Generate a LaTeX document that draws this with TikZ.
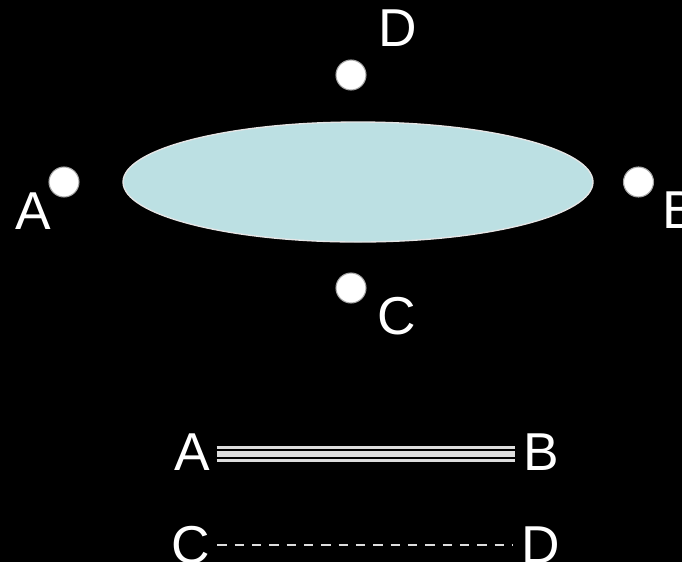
\documentclass[tikz,border=0pt]{standalone}
\usepackage{fontspec}
\setmainfont{Liberation Sans}
\usetikzlibrary{shapes.geometric}
\definecolor{lens}{HTML}{BCE0E3}
\definecolor{rim}{HTML}{E6E6E6}
\definecolor{lgray}{HTML}{DDDDDD}
\begin{document}
\begin{tikzpicture}[x=0.75pt,y=-0.75pt,
  lbl/.style={text=white,inner sep=0pt,font=\fontsize{40}{48}\selectfont},
  dot/.style={circle,fill=white,draw=gray!70,line width=0.8pt,minimum size=22.5pt,inner sep=0pt},
  lensshape/.style={ellipse,fill=lens,draw=rim,line width=1pt,minimum width=352.5pt,minimum height=90pt,inner sep=0pt},
  tline/.style={lgray,line cap=butt},
  dline/.style={lgray,line width=1.5pt,dash pattern=on 7pt off 6pt}]
\fill[black] (0,0) rectangle (682,562);
\useasboundingbox (0,0) rectangle (682,562);
\node[lensshape] (lens) at (358,182) {};
\node[dot] (pA) at (64,182) {};
\node[dot] (pB) at (638.5,182) {};
\node[dot] (pD) at (351,75) {};
\node[dot] (pC) at (351,288) {};
\node[lbl] (lA) at (33,211) {A};
\node[lbl] (lB) at (680,210) {B};
\node[lbl] (lD) at (398,28) {D};
\node[lbl] (lC) at (397,316) {C};
\node[lbl] (bA) at (192,452) {A};
\node[lbl] (bB) at (541,452) {B};
\node[lbl] (bC) at (191,545) {C};
\node[lbl] (bD) at (541,545) {D};
\draw[tline,line width=2pt] ([yshift=3.6pt]bA.east) ++(5pt,0) -- ([yshift=3.6pt,xshift=-6pt]bB.west);
\draw[tline,line width=4.2pt] ([yshift=-1.5pt,xshift=5pt]bA.east) -- ([yshift=-1.5pt,xshift=-6pt]bB.west);
\draw[tline,line width=2pt] ([yshift=-6.6pt,xshift=5pt]bA.east) -- ([yshift=-6.6pt,xshift=-6pt]bB.west);
\draw[dline] ([xshift=5pt,yshift=0pt]bC.east) -- ([xshift=-6pt]bD.west);
\end{tikzpicture}
\end{document}
